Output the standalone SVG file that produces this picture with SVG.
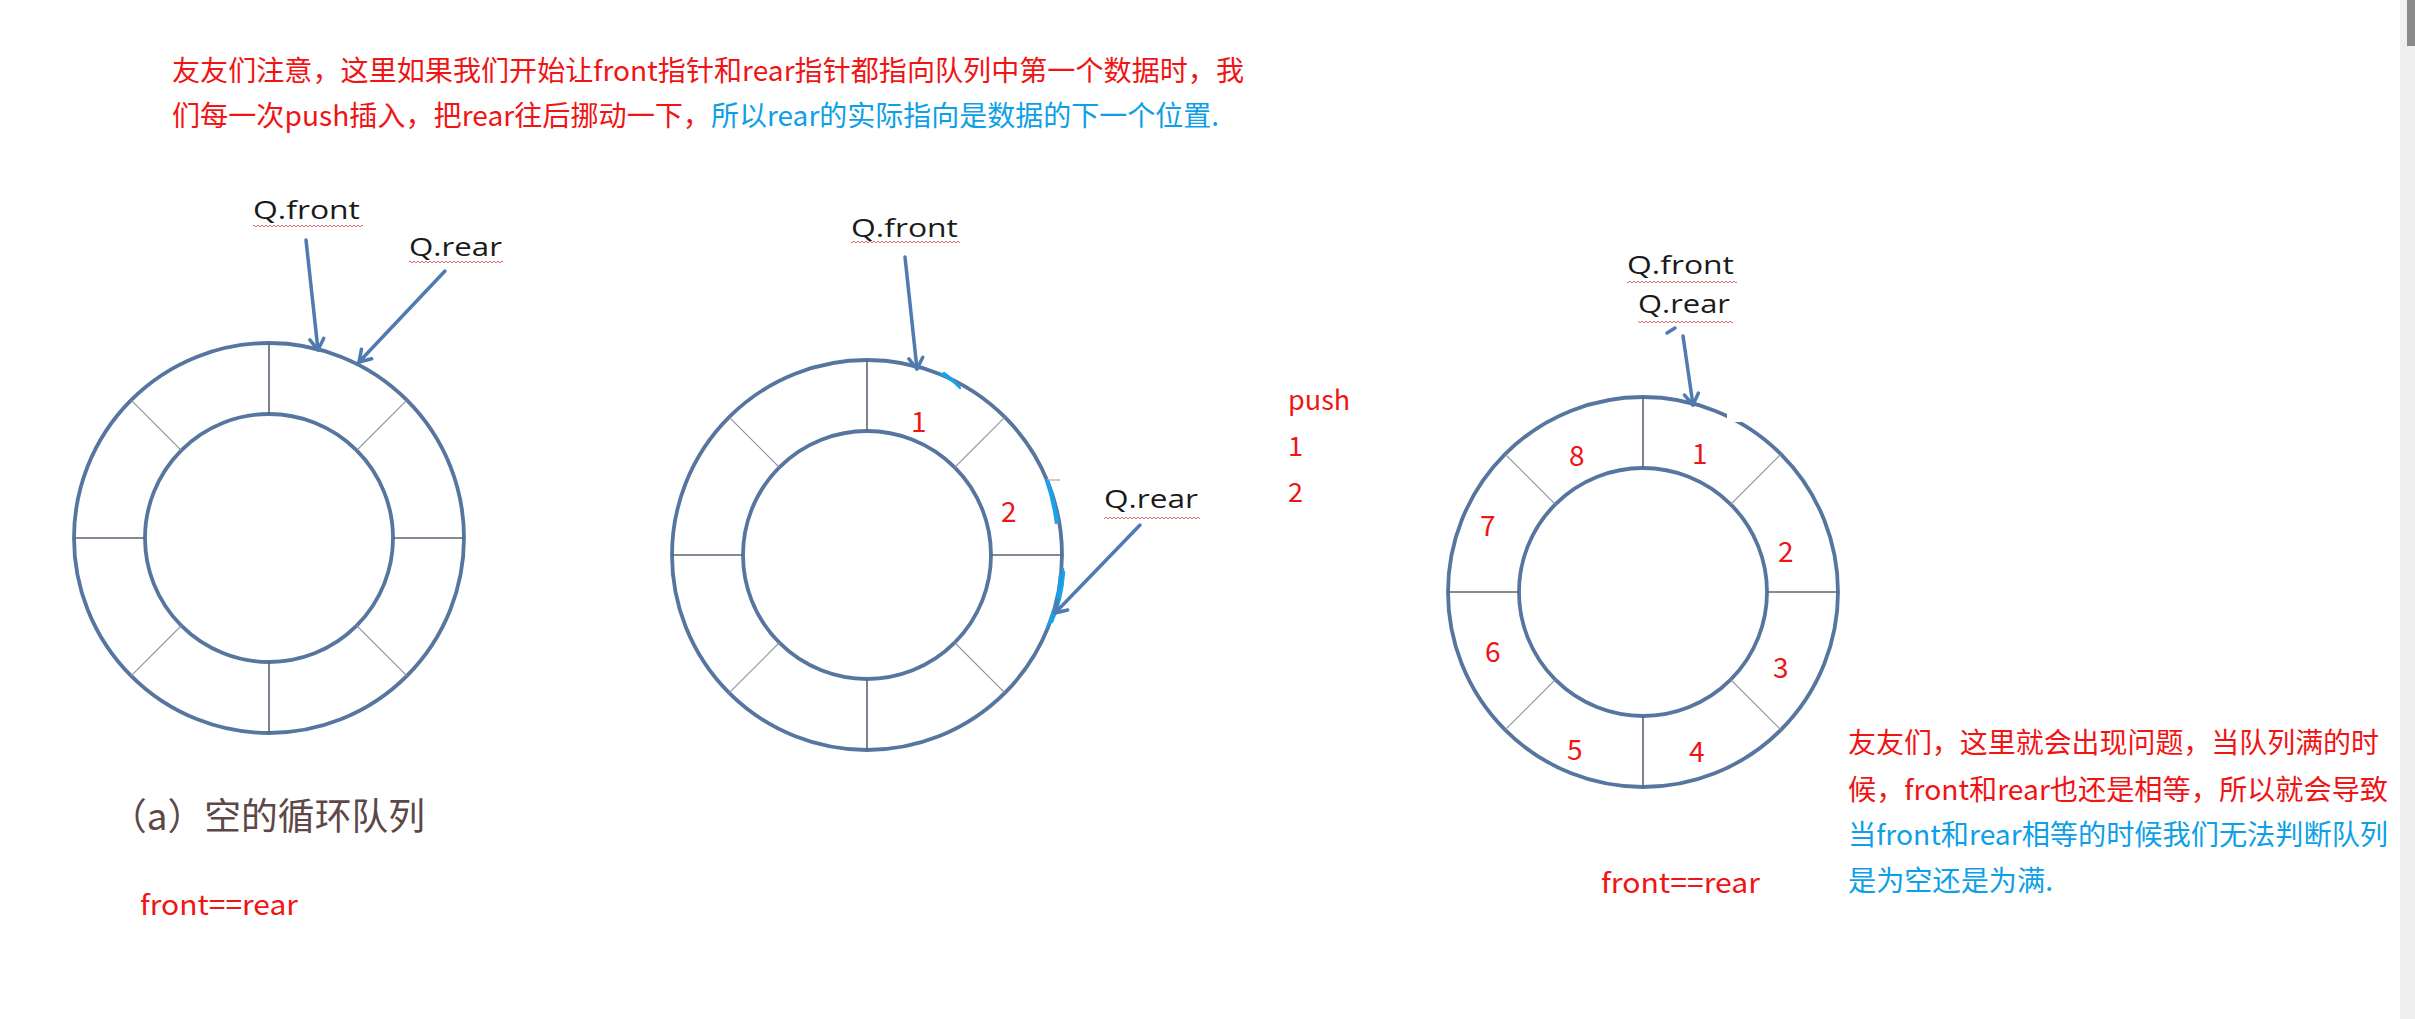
<svg xmlns="http://www.w3.org/2000/svg" xmlns:xlink="http://www.w3.org/1999/xlink" width="2415" height="1019" viewBox="0 0 2415 1019">
<style>
.cn{font-family:"Noto Sans CJK SC","Noto Sans",sans-serif;}
.red{fill:#f01414;}
.blue{fill:#0ea0e6;}
.q{font-family:"Open Sans","Noto Sans",sans-serif;font-size:25px;fill:#1a1a1a;}
.num{font-family:"Noto Sans CJK SC","Noto Sans",sans-serif;font-size:28px;fill:#f01414;}
.ringline{fill:none;stroke:#56769f;stroke-width:3.8;}
.spoke{stroke:#5c6573;stroke-width:1.6;}
.dspoke{stroke:#8c939d;stroke-width:1.2;}
.arrow{fill:none;stroke:#4f7bb3;stroke-width:3.5;stroke-linecap:round;}
.hand{fill:none;stroke:#18a2ea;stroke-width:2.5;stroke-linecap:round;}
</style>
<defs>
<marker id="ah" markerUnits="userSpaceOnUse" markerWidth="30" markerHeight="30" viewBox="-15 -15 30 30" refX="0" refY="0" orient="auto">
<path d="M-11,-7 L0,0 L-11,7" fill="none" stroke="#4f7bb3" stroke-width="3.5" stroke-linecap="round" stroke-linejoin="round"/>
</marker>
<pattern id="wave" patternUnits="userSpaceOnUse" width="4" height="4">
<path d="M0,3 L2,1 L4,3" fill="none" stroke="#e06a6a" stroke-width="1"/>
</pattern>
<g id="ring">
<circle cx="0" cy="0" r="195" class="ringline"/>
<circle cx="0" cy="0" r="124" class="ringline"/>
<line x1="0" y1="-195" x2="0" y2="-124" class="spoke"/>
<line x1="0" y1="124" x2="0" y2="195" class="spoke"/>
<line x1="-195" y1="0" x2="-124" y2="0" class="spoke"/>
<line x1="124" y1="0" x2="195" y2="0" class="spoke"/>
<line x1="-137.9" y1="-137.9" x2="-87.7" y2="-87.7" class="dspoke"/>
<line x1="137.9" y1="-137.9" x2="87.7" y2="-87.7" class="dspoke"/>
<line x1="-137.9" y1="137.9" x2="-87.7" y2="87.7" class="dspoke"/>
<line x1="137.9" y1="137.9" x2="87.7" y2="87.7" class="dspoke"/>
</g>
</defs>
<rect x="0" y="0" width="2415" height="1019" fill="#ffffff"/>

<g id="note-top" class="cn" font-size="28">
<text x="172" y="81" class="red" textLength="1072" lengthAdjust="spacingAndGlyphs">友友们注意，这里如果我们开始让front指针和rear指针都指向队列中第一个数据时，我</text>
<text x="172" y="126" class="red" textLength="539" lengthAdjust="spacingAndGlyphs">们每一次push插入，把rear往后挪动一下，</text>
<text x="711" y="126" class="blue" textLength="508" lengthAdjust="spacingAndGlyphs">所以rear的实际指向是数据的下一个位置.</text>
</g>

<g id="queue-empty">
<use xlink:href="#ring" href="#ring" x="269" y="538"/>
<text x="253" y="219" class="q" textLength="107" lengthAdjust="spacingAndGlyphs">Q.front</text>
<rect x="253" y="224" width="110" height="4" fill="url(#wave)"/>
<text x="409" y="256" class="q" textLength="93" lengthAdjust="spacingAndGlyphs">Q.rear</text>
<rect x="409" y="260" width="94" height="4" fill="url(#wave)"/>
<text x="110" y="830" class="cn" font-size="37" fill="#5e4747" textLength="315" lengthAdjust="spacingAndGlyphs">（a）空的循环队列</text>
<text x="140" y="915" class="cn red" font-size="28" textLength="158" lengthAdjust="spacingAndGlyphs">front==rear</text>
</g>

<g id="queue-two">
<use xlink:href="#ring" href="#ring" x="867" y="555"/>
<text x="911" y="432" class="num">1</text>
<text x="1001" y="522" class="num">2</text>
<text x="851" y="237" class="q" textLength="107" lengthAdjust="spacingAndGlyphs">Q.front</text>
<rect x="851" y="240" width="109" height="4" fill="url(#wave)"/>
<text x="1104" y="508" class="q" textLength="94" lengthAdjust="spacingAndGlyphs">Q.rear</text>
<rect x="1104" y="516" width="96" height="4" fill="url(#wave)"/>
<path class="hand" d="M941,374 Q951,378 960,388"/>
<path class="hand" d="M944,373 Q953,379 959,386"/>
<line x1="1045" y1="480" x2="1060" y2="480" stroke="#e8a4a4" stroke-width="1.5"/>
<path class="hand" d="M1046,480 Q1053,500 1056,523"/>
<path class="hand" d="M1048,481 Q1055,502 1058,521"/>
<path class="hand" d="M1063,569 Q1064,595 1047,627"/>
<path class="hand" d="M1060,575 Q1058,605 1050,620"/>
<path class="hand" d="M1064,572 Q1062,600 1052,622"/>
</g>

<g id="push-note" class="cn red" font-size="27">
<text x="1288" y="410">push</text>
<text x="1288" y="456">1</text>
<text x="1288" y="502">2</text>
</g>

<g id="queue-full">
<use xlink:href="#ring" href="#ring" x="1643" y="592"/>
<rect x="1727" y="380" width="60" height="42" fill="#ffffff"/>
<text x="1692" y="464" class="num">1</text>
<text x="1778" y="562" class="num">2</text>
<text x="1773" y="678" class="num">3</text>
<text x="1689" y="762" class="num">4</text>
<text x="1567" y="760" class="num">5</text>
<text x="1485" y="662" class="num">6</text>
<text x="1480" y="536" class="num">7</text>
<text x="1569" y="466" class="num">8</text>
<text x="1627" y="274" class="q" textLength="107" lengthAdjust="spacingAndGlyphs">Q.front</text>
<rect x="1627" y="280" width="110" height="4" fill="url(#wave)"/>
<text x="1638" y="313" class="q" textLength="92" lengthAdjust="spacingAndGlyphs">Q.rear</text>
<rect x="1638" y="320" width="95" height="4" fill="url(#wave)"/>
<text x="1601" y="893" class="cn red" font-size="28" textLength="159" lengthAdjust="spacingAndGlyphs">front==rear</text>
</g>

<g id="note-right" class="cn" font-size="28">
<text x="1848" y="753" class="red" textLength="531" lengthAdjust="spacingAndGlyphs">友友们，这里就会出现问题，当队列满的时</text>
<text x="1848" y="800" class="red" textLength="540" lengthAdjust="spacingAndGlyphs">候，front和rear也还是相等，所以就会导致</text>
<text x="1848" y="845" class="blue" textLength="540" lengthAdjust="spacingAndGlyphs">当front和rear相等的时候我们无法判断队列</text>
<text x="1848" y="891" class="blue" textLength="205" lengthAdjust="spacingAndGlyphs">是为空还是为满.</text>
</g>

<g id="connectors">
<line class="arrow" x1="306" y1="240" x2="318" y2="350" marker-end="url(#ah)"/>
<line class="arrow" x1="445" y1="271" x2="359" y2="362" marker-end="url(#ah)"/>
<line class="arrow" x1="905" y1="257" x2="917" y2="369" marker-end="url(#ah)"/>
<line class="arrow" x1="1140" y1="525" x2="1055" y2="613" marker-end="url(#ah)"/>
<line class="arrow" x1="1683" y1="336" x2="1693" y2="405" marker-end="url(#ah)"/>
<line class="arrow" x1="1667" y1="333" x2="1675" y2="328"/>
</g>

<g id="scrollbar">
<rect x="2400" y="0" width="15" height="1019" fill="#efefef"/>
<rect x="2407" y="0" width="8" height="46" fill="#8a8a8a"/>
</g>
</svg>
